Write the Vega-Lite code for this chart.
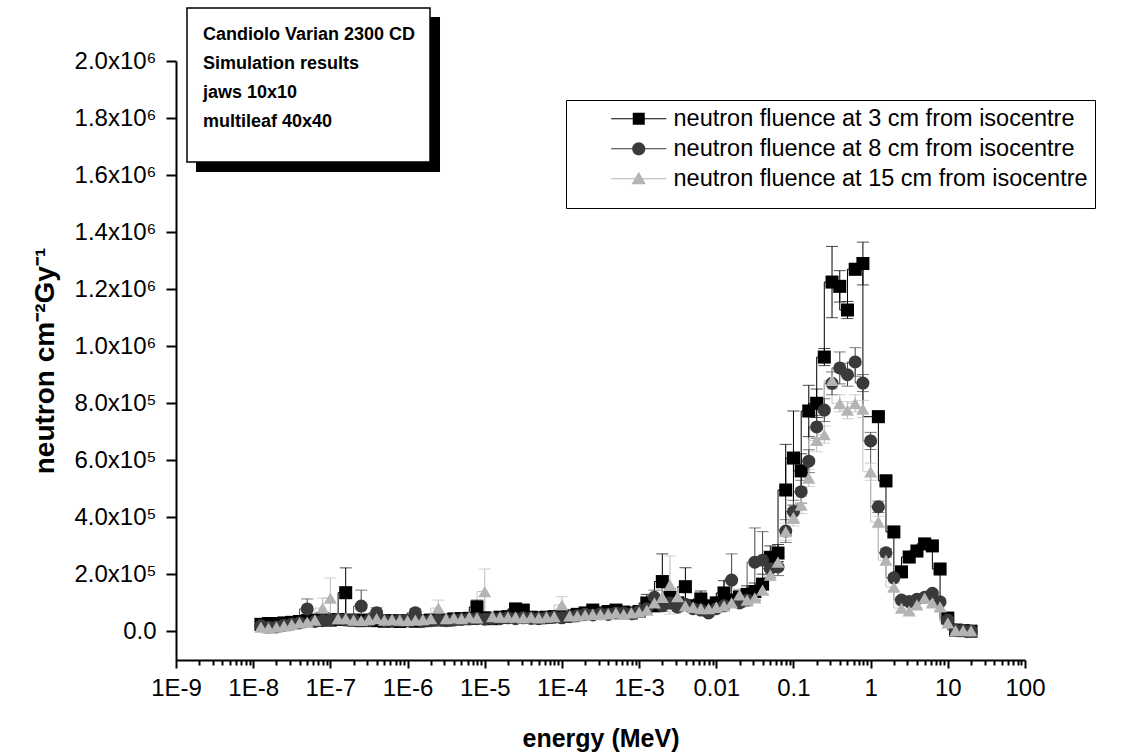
{
  "$schema": "https://vega.github.io/schema/vega-lite/v6.json",
  "width": 849,
  "height": 599,
  "autosize": {"type": "none"},
  "padding": {"left": 176, "top": 61, "right": 113, "bottom": 96},
  "background": "white",
  "config": {
    "view": {"stroke": null},
    "font": "Liberation Sans",
    "axis": {"grid": false, "domainColor": "black", "domainWidth": 2, "tickColor": "black", "tickWidth": 2, "labelColor": "black", "labelFont": "Liberation Sans", "labelFontSize": 24, "titleColor": "black", "titleFont": "Liberation Sans", "titleFontSize": 25, "titleFontWeight": "bold", "labelOverlap": false, "labelFlush": false, "labelBound": false}
  },
  "resolve": {"scale": {"color": "independent", "shape": "independent"}},
  "datasets": {
    "fluence": [
      {"s":"3 cm","e":1.26e-8,"v":25000,"err":4000},
      {"s":"3 cm","e":1.58e-8,"v":28000,"err":4000},
      {"s":"3 cm","e":2e-8,"v":28000,"err":4000},
      {"s":"3 cm","e":2.51e-8,"v":30000,"err":5000},
      {"s":"3 cm","e":3.16e-8,"v":32000,"err":5000},
      {"s":"3 cm","e":3.98e-8,"v":35000,"err":5000},
      {"s":"3 cm","e":5.01e-8,"v":38000,"err":6000},
      {"s":"3 cm","e":6.31e-8,"v":40000,"err":6000},
      {"s":"3 cm","e":7.94e-8,"v":45000,"err":7000},
      {"s":"3 cm","e":1e-7,"v":40000,"err":6000},
      {"s":"3 cm","e":1.26e-7,"v":42000,"err":6000},
      {"s":"3 cm","e":1.58e-7,"v":136000,"err":87000},
      {"s":"3 cm","e":2e-7,"v":40000,"err":6000},
      {"s":"3 cm","e":2.51e-7,"v":38000,"err":6000},
      {"s":"3 cm","e":3.16e-7,"v":40000,"err":6000},
      {"s":"3 cm","e":3.98e-7,"v":38000,"err":6000},
      {"s":"3 cm","e":5.01e-7,"v":36000,"err":5000},
      {"s":"3 cm","e":6.31e-7,"v":38000,"err":6000},
      {"s":"3 cm","e":7.94e-7,"v":35000,"err":5000},
      {"s":"3 cm","e":1e-6,"v":38000,"err":6000},
      {"s":"3 cm","e":1.26e-6,"v":36000,"err":5000},
      {"s":"3 cm","e":1.58e-6,"v":38000,"err":6000},
      {"s":"3 cm","e":2e-6,"v":40000,"err":6000},
      {"s":"3 cm","e":2.51e-6,"v":42000,"err":6000},
      {"s":"3 cm","e":3.16e-6,"v":40000,"err":6000},
      {"s":"3 cm","e":3.98e-6,"v":44000,"err":7000},
      {"s":"3 cm","e":5.01e-6,"v":45000,"err":7000},
      {"s":"3 cm","e":6.31e-6,"v":46000,"err":7000},
      {"s":"3 cm","e":7.94e-6,"v":86000,"err":24000},
      {"s":"3 cm","e":1e-5,"v":48000,"err":7000},
      {"s":"3 cm","e":1.26e-5,"v":45000,"err":7000},
      {"s":"3 cm","e":1.58e-5,"v":50000,"err":8000},
      {"s":"3 cm","e":2e-5,"v":52000,"err":8000},
      {"s":"3 cm","e":2.51e-5,"v":79000,"err":14000},
      {"s":"3 cm","e":3.16e-5,"v":75000,"err":10000},
      {"s":"3 cm","e":3.98e-5,"v":50000,"err":8000},
      {"s":"3 cm","e":5.01e-5,"v":48000,"err":7000},
      {"s":"3 cm","e":6.31e-5,"v":50000,"err":8000},
      {"s":"3 cm","e":7.94e-5,"v":52000,"err":8000},
      {"s":"3 cm","e":1e-4,"v":54000,"err":8000},
      {"s":"3 cm","e":1.26e-4,"v":55000,"err":8000},
      {"s":"3 cm","e":1.58e-4,"v":60000,"err":9000},
      {"s":"3 cm","e":2e-4,"v":65000,"err":10000},
      {"s":"3 cm","e":2.51e-4,"v":75000,"err":10000},
      {"s":"3 cm","e":3.16e-4,"v":65000,"err":10000},
      {"s":"3 cm","e":3.98e-4,"v":70000,"err":10000},
      {"s":"3 cm","e":5.01e-4,"v":75000,"err":11000},
      {"s":"3 cm","e":6.31e-4,"v":68000,"err":10000},
      {"s":"3 cm","e":7.94e-4,"v":65000,"err":10000},
      {"s":"3 cm","e":1e-3,"v":70000,"err":10000},
      {"s":"3 cm","e":1.26e-3,"v":100000,"err":30000},
      {"s":"3 cm","e":1.58e-3,"v":90000,"err":20000},
      {"s":"3 cm","e":2e-3,"v":175000,"err":97000},
      {"s":"3 cm","e":2.51e-3,"v":120000,"err":30000},
      {"s":"3 cm","e":3.16e-3,"v":100000,"err":20000},
      {"s":"3 cm","e":3.98e-3,"v":157000,"err":66000},
      {"s":"3 cm","e":5.01e-3,"v":90000,"err":15000},
      {"s":"3 cm","e":6.31e-3,"v":114000,"err":28000},
      {"s":"3 cm","e":7.94e-3,"v":90000,"err":15000},
      {"s":"3 cm","e":0.01,"v":100000,"err":20000},
      {"s":"3 cm","e":0.0126,"v":135000,"err":43000},
      {"s":"3 cm","e":0.0158,"v":110000,"err":20000},
      {"s":"3 cm","e":0.02,"v":120000,"err":25000},
      {"s":"3 cm","e":0.0251,"v":130000,"err":30000},
      {"s":"3 cm","e":0.0316,"v":140000,"err":30000},
      {"s":"3 cm","e":0.0398,"v":166000,"err":35000},
      {"s":"3 cm","e":0.0501,"v":260000,"err":40000},
      {"s":"3 cm","e":0.0631,"v":275000,"err":30000},
      {"s":"3 cm","e":0.0794,"v":496000,"err":160000},
      {"s":"3 cm","e":0.1,"v":608000,"err":165000},
      {"s":"3 cm","e":0.126,"v":563000,"err":60000},
      {"s":"3 cm","e":0.158,"v":773000,"err":90000},
      {"s":"3 cm","e":0.2,"v":800000,"err":50000},
      {"s":"3 cm","e":0.251,"v":962000,"err":30000},
      {"s":"3 cm","e":0.316,"v":1225000,"err":125000},
      {"s":"3 cm","e":0.398,"v":1210000,"err":55000},
      {"s":"3 cm","e":0.501,"v":1127000,"err":30000},
      {"s":"3 cm","e":0.631,"v":1270000,"err":20000},
      {"s":"3 cm","e":0.794,"v":1290000,"err":75000},
      {"s":"3 cm","e":1.26,"v":753000,"err":20000},
      {"s":"3 cm","e":1.58,"v":528000,"err":20000},
      {"s":"3 cm","e":2,"v":349000,"err":15000},
      {"s":"3 cm","e":2.51,"v":209000,"err":15000},
      {"s":"3 cm","e":3.16,"v":261000,"err":15000},
      {"s":"3 cm","e":3.98,"v":282000,"err":15000},
      {"s":"3 cm","e":5.01,"v":307000,"err":15000},
      {"s":"3 cm","e":6.31,"v":300000,"err":15000},
      {"s":"3 cm","e":7.94,"v":219000,"err":15000},
      {"s":"3 cm","e":10,"v":47000,"err":10000},
      {"s":"3 cm","e":12.6,"v":5000,"err":3000},
      {"s":"3 cm","e":15.8,"v":3000,"err":2000},
      {"s":"3 cm","e":20,"v":1000,"err":1000},

      {"s":"8 cm","e":1.26e-8,"v":20000,"err":3000},
      {"s":"8 cm","e":1.58e-8,"v":15000,"err":3000},
      {"s":"8 cm","e":2e-8,"v":16000,"err":3000},
      {"s":"8 cm","e":2.51e-8,"v":22000,"err":3000},
      {"s":"8 cm","e":3.16e-8,"v":26000,"err":4000},
      {"s":"8 cm","e":3.98e-8,"v":30000,"err":4000},
      {"s":"8 cm","e":5.01e-8,"v":79000,"err":35000},
      {"s":"8 cm","e":6.31e-8,"v":35000,"err":5000},
      {"s":"8 cm","e":7.94e-8,"v":38000,"err":5000},
      {"s":"8 cm","e":1e-7,"v":40000,"err":6000},
      {"s":"8 cm","e":1.26e-7,"v":43000,"err":6000},
      {"s":"8 cm","e":1.58e-7,"v":40000,"err":6000},
      {"s":"8 cm","e":2e-7,"v":40000,"err":6000},
      {"s":"8 cm","e":2.51e-7,"v":89000,"err":56000},
      {"s":"8 cm","e":3.16e-7,"v":38000,"err":5000},
      {"s":"8 cm","e":3.98e-7,"v":66000,"err":17000},
      {"s":"8 cm","e":5.01e-7,"v":38000,"err":5000},
      {"s":"8 cm","e":6.31e-7,"v":36000,"err":5000},
      {"s":"8 cm","e":7.94e-7,"v":38000,"err":5000},
      {"s":"8 cm","e":1e-6,"v":40000,"err":6000},
      {"s":"8 cm","e":1.26e-6,"v":66000,"err":13000},
      {"s":"8 cm","e":1.58e-6,"v":35000,"err":5000},
      {"s":"8 cm","e":2e-6,"v":38000,"err":5000},
      {"s":"8 cm","e":2.51e-6,"v":40000,"err":6000},
      {"s":"8 cm","e":3.16e-6,"v":38000,"err":5000},
      {"s":"8 cm","e":3.98e-6,"v":40000,"err":6000},
      {"s":"8 cm","e":5.01e-6,"v":42000,"err":6000},
      {"s":"8 cm","e":6.31e-6,"v":44000,"err":6000},
      {"s":"8 cm","e":7.94e-6,"v":45000,"err":6000},
      {"s":"8 cm","e":1e-5,"v":43000,"err":6000},
      {"s":"8 cm","e":1.26e-5,"v":46000,"err":7000},
      {"s":"8 cm","e":1.58e-5,"v":45000,"err":6000},
      {"s":"8 cm","e":2e-5,"v":48000,"err":7000},
      {"s":"8 cm","e":2.51e-5,"v":45000,"err":6000},
      {"s":"8 cm","e":3.16e-5,"v":48000,"err":7000},
      {"s":"8 cm","e":3.98e-5,"v":46000,"err":7000},
      {"s":"8 cm","e":5.01e-5,"v":45000,"err":6000},
      {"s":"8 cm","e":6.31e-5,"v":48000,"err":7000},
      {"s":"8 cm","e":7.94e-5,"v":50000,"err":7000},
      {"s":"8 cm","e":1e-4,"v":48000,"err":7000},
      {"s":"8 cm","e":1.26e-4,"v":52000,"err":7000},
      {"s":"8 cm","e":1.58e-4,"v":55000,"err":8000},
      {"s":"8 cm","e":2e-4,"v":60000,"err":8000},
      {"s":"8 cm","e":2.51e-4,"v":58000,"err":8000},
      {"s":"8 cm","e":3.16e-4,"v":62000,"err":9000},
      {"s":"8 cm","e":3.98e-4,"v":60000,"err":8000},
      {"s":"8 cm","e":5.01e-4,"v":65000,"err":9000},
      {"s":"8 cm","e":6.31e-4,"v":65000,"err":9000},
      {"s":"8 cm","e":7.94e-4,"v":62000,"err":9000},
      {"s":"8 cm","e":1e-3,"v":70000,"err":10000},
      {"s":"8 cm","e":1.26e-3,"v":80000,"err":15000},
      {"s":"8 cm","e":1.58e-3,"v":120000,"err":25000},
      {"s":"8 cm","e":2e-3,"v":90000,"err":20000},
      {"s":"8 cm","e":2.51e-3,"v":100000,"err":20000},
      {"s":"8 cm","e":3.16e-3,"v":85000,"err":15000},
      {"s":"8 cm","e":3.98e-3,"v":95000,"err":15000},
      {"s":"8 cm","e":5.01e-3,"v":80000,"err":12000},
      {"s":"8 cm","e":6.31e-3,"v":75000,"err":10000},
      {"s":"8 cm","e":7.94e-3,"v":65000,"err":10000},
      {"s":"8 cm","e":0.01,"v":80000,"err":12000},
      {"s":"8 cm","e":0.0126,"v":90000,"err":15000},
      {"s":"8 cm","e":0.0158,"v":180000,"err":92000},
      {"s":"8 cm","e":0.02,"v":100000,"err":15000},
      {"s":"8 cm","e":0.0251,"v":110000,"err":20000},
      {"s":"8 cm","e":0.0316,"v":243000,"err":120000},
      {"s":"8 cm","e":0.0398,"v":250000,"err":100000},
      {"s":"8 cm","e":0.0501,"v":220000,"err":30000},
      {"s":"8 cm","e":0.0631,"v":226000,"err":30000},
      {"s":"8 cm","e":0.0794,"v":352000,"err":40000},
      {"s":"8 cm","e":0.1,"v":420000,"err":40000},
      {"s":"8 cm","e":0.126,"v":490000,"err":40000},
      {"s":"8 cm","e":0.158,"v":597000,"err":40000},
      {"s":"8 cm","e":0.2,"v":717000,"err":40000},
      {"s":"8 cm","e":0.251,"v":776000,"err":40000},
      {"s":"8 cm","e":0.316,"v":870000,"err":40000},
      {"s":"8 cm","e":0.398,"v":924000,"err":56000},
      {"s":"8 cm","e":0.501,"v":900000,"err":40000},
      {"s":"8 cm","e":0.631,"v":945000,"err":50000},
      {"s":"8 cm","e":0.794,"v":871000,"err":30000},
      {"s":"8 cm","e":1,"v":668000,"err":30000},
      {"s":"8 cm","e":1.26,"v":437000,"err":20000},
      {"s":"8 cm","e":1.58,"v":276000,"err":15000},
      {"s":"8 cm","e":2,"v":188000,"err":12000},
      {"s":"8 cm","e":2.51,"v":110000,"err":10000},
      {"s":"8 cm","e":3.16,"v":105000,"err":10000},
      {"s":"8 cm","e":3.98,"v":113000,"err":10000},
      {"s":"8 cm","e":5.01,"v":120000,"err":10000},
      {"s":"8 cm","e":6.31,"v":134000,"err":10000},
      {"s":"8 cm","e":7.94,"v":104000,"err":10000},
      {"s":"8 cm","e":10,"v":40000,"err":8000},
      {"s":"8 cm","e":12.6,"v":5000,"err":3000},
      {"s":"8 cm","e":15.8,"v":4000,"err":3000},
      {"s":"8 cm","e":20,"v":2000,"err":2000},

      {"s":"15 cm","e":1.26e-8,"v":15000,"err":3000},
      {"s":"15 cm","e":1.58e-8,"v":12000,"err":3000},
      {"s":"15 cm","e":2e-8,"v":15000,"err":3000},
      {"s":"15 cm","e":2.51e-8,"v":20000,"err":3000},
      {"s":"15 cm","e":3.16e-8,"v":25000,"err":4000},
      {"s":"15 cm","e":3.98e-8,"v":30000,"err":4000},
      {"s":"15 cm","e":5.01e-8,"v":33000,"err":5000},
      {"s":"15 cm","e":6.31e-8,"v":40000,"err":6000},
      {"s":"15 cm","e":7.94e-8,"v":82000,"err":35000},
      {"s":"15 cm","e":1e-7,"v":117000,"err":70000},
      {"s":"15 cm","e":1.26e-7,"v":45000,"err":6000},
      {"s":"15 cm","e":1.58e-7,"v":45000,"err":6000},
      {"s":"15 cm","e":2e-7,"v":40000,"err":6000},
      {"s":"15 cm","e":2.51e-7,"v":38000,"err":5000},
      {"s":"15 cm","e":3.16e-7,"v":42000,"err":6000},
      {"s":"15 cm","e":3.98e-7,"v":45000,"err":6000},
      {"s":"15 cm","e":5.01e-7,"v":40000,"err":6000},
      {"s":"15 cm","e":6.31e-7,"v":42000,"err":6000},
      {"s":"15 cm","e":7.94e-7,"v":40000,"err":6000},
      {"s":"15 cm","e":1e-6,"v":38000,"err":5000},
      {"s":"15 cm","e":1.26e-6,"v":40000,"err":6000},
      {"s":"15 cm","e":1.58e-6,"v":42000,"err":6000},
      {"s":"15 cm","e":2e-6,"v":45000,"err":6000},
      {"s":"15 cm","e":2.51e-6,"v":82000,"err":28000},
      {"s":"15 cm","e":3.16e-6,"v":45000,"err":6000},
      {"s":"15 cm","e":3.98e-6,"v":48000,"err":7000},
      {"s":"15 cm","e":5.01e-6,"v":45000,"err":6000},
      {"s":"15 cm","e":6.31e-6,"v":50000,"err":7000},
      {"s":"15 cm","e":7.94e-6,"v":48000,"err":7000},
      {"s":"15 cm","e":1e-5,"v":140000,"err":79000},
      {"s":"15 cm","e":1.26e-5,"v":52000,"err":7000},
      {"s":"15 cm","e":1.58e-5,"v":50000,"err":7000},
      {"s":"15 cm","e":2e-5,"v":50000,"err":7000},
      {"s":"15 cm","e":2.51e-5,"v":50000,"err":7000},
      {"s":"15 cm","e":3.16e-5,"v":48000,"err":7000},
      {"s":"15 cm","e":3.98e-5,"v":50000,"err":7000},
      {"s":"15 cm","e":5.01e-5,"v":48000,"err":7000},
      {"s":"15 cm","e":6.31e-5,"v":50000,"err":7000},
      {"s":"15 cm","e":7.94e-5,"v":52000,"err":7000},
      {"s":"15 cm","e":1e-4,"v":93000,"err":29000},
      {"s":"15 cm","e":1.26e-4,"v":55000,"err":8000},
      {"s":"15 cm","e":1.58e-4,"v":55000,"err":8000},
      {"s":"15 cm","e":2e-4,"v":58000,"err":8000},
      {"s":"15 cm","e":2.51e-4,"v":60000,"err":8000},
      {"s":"15 cm","e":3.16e-4,"v":60000,"err":8000},
      {"s":"15 cm","e":3.98e-4,"v":62000,"err":9000},
      {"s":"15 cm","e":5.01e-4,"v":65000,"err":9000},
      {"s":"15 cm","e":6.31e-4,"v":60000,"err":8000},
      {"s":"15 cm","e":7.94e-4,"v":65000,"err":9000},
      {"s":"15 cm","e":1e-3,"v":68000,"err":10000},
      {"s":"15 cm","e":1.26e-3,"v":75000,"err":15000},
      {"s":"15 cm","e":1.58e-3,"v":100000,"err":30000},
      {"s":"15 cm","e":2e-3,"v":120000,"err":30000},
      {"s":"15 cm","e":2.51e-3,"v":163000,"err":102000},
      {"s":"15 cm","e":3.16e-3,"v":122000,"err":30000},
      {"s":"15 cm","e":3.98e-3,"v":90000,"err":15000},
      {"s":"15 cm","e":5.01e-3,"v":85000,"err":12000},
      {"s":"15 cm","e":6.31e-3,"v":80000,"err":10000},
      {"s":"15 cm","e":7.94e-3,"v":80000,"err":10000},
      {"s":"15 cm","e":0.01,"v":85000,"err":12000},
      {"s":"15 cm","e":0.0126,"v":90000,"err":12000},
      {"s":"15 cm","e":0.0158,"v":100000,"err":15000},
      {"s":"15 cm","e":0.02,"v":128000,"err":20000},
      {"s":"15 cm","e":0.0251,"v":110000,"err":15000},
      {"s":"15 cm","e":0.0316,"v":118000,"err":15000},
      {"s":"15 cm","e":0.0398,"v":145000,"err":15000},
      {"s":"15 cm","e":0.0501,"v":198000,"err":20000},
      {"s":"15 cm","e":0.0631,"v":243000,"err":25000},
      {"s":"15 cm","e":0.0794,"v":350000,"err":30000},
      {"s":"15 cm","e":0.1,"v":400000,"err":30000},
      {"s":"15 cm","e":0.126,"v":443000,"err":30000},
      {"s":"15 cm","e":0.158,"v":538000,"err":30000},
      {"s":"15 cm","e":0.2,"v":670000,"err":40000},
      {"s":"15 cm","e":0.251,"v":690000,"err":30000},
      {"s":"15 cm","e":0.316,"v":880000,"err":30000},
      {"s":"15 cm","e":0.398,"v":800000,"err":30000},
      {"s":"15 cm","e":0.501,"v":776000,"err":30000},
      {"s":"15 cm","e":0.631,"v":800000,"err":30000},
      {"s":"15 cm","e":0.794,"v":780000,"err":30000},
      {"s":"15 cm","e":1,"v":560000,"err":30000},
      {"s":"15 cm","e":1.26,"v":384000,"err":20000},
      {"s":"15 cm","e":1.58,"v":250000,"err":15000},
      {"s":"15 cm","e":2,"v":156000,"err":12000},
      {"s":"15 cm","e":2.51,"v":82000,"err":10000},
      {"s":"15 cm","e":3.16,"v":72000,"err":10000},
      {"s":"15 cm","e":3.98,"v":93000,"err":10000},
      {"s":"15 cm","e":5.01,"v":117000,"err":10000},
      {"s":"15 cm","e":6.31,"v":100000,"err":10000},
      {"s":"15 cm","e":7.94,"v":86000,"err":10000},
      {"s":"15 cm","e":10,"v":30000,"err":8000},
      {"s":"15 cm","e":12.6,"v":3000,"err":3000},
      {"s":"15 cm","e":15.8,"v":3000,"err":3000},
      {"s":"15 cm","e":20,"v":2000,"err":2000}
    ]
  },
  "layer": [
    {
      "data": {"name": "fluence"},
      "mark": {"type": "line", "interpolate": "step-before", "strokeWidth": 1},
      "encoding": {
        "x": {"field": "e", "type": "quantitative", "title": "energy (MeV)", "scale": {"type": "log", "domain": [1e-9, 100], "nice": false},
          "axis": {
            "title": "energy (MeV)",
            "titlePadding": 26,
            "labelPadding": 8,
            "values": [1e-9,2e-9,3e-9,4e-9,5e-9,6e-9,7e-9,8e-9,9e-9,1e-8,2e-8,3e-8,4e-8,5e-8,6e-8,7e-8,8e-8,9e-8,1e-7,2e-7,3e-7,4e-7,5e-7,6e-7,7e-7,8e-7,9e-7,1e-6,2e-6,3e-6,4e-6,5e-6,6e-6,7e-6,8e-6,9e-6,1e-5,2e-5,3e-5,4e-5,5e-5,6e-5,7e-5,8e-5,9e-5,1e-4,2e-4,3e-4,4e-4,5e-4,6e-4,7e-4,8e-4,9e-4,1e-3,2e-3,3e-3,4e-3,5e-3,6e-3,7e-3,8e-3,9e-3,0.01,0.02,0.03,0.04,0.05,0.06,0.07,0.08,0.09,0.1,0.2,0.3,0.4,0.5,0.6,0.7,0.8,0.9,1,2,3,4,5,6,7,8,9,10,20,30,40,50,60,70,80,90,100],
            "labelExpr": "abs(log(datum.value)/LN10 - round(log(datum.value)/LN10)) > 0.001 ? '' : (round(log(datum.value)/LN10) <= -3 ? '1E' + round(log(datum.value)/LN10) : '' + datum.value)",
            "tickSize": {"condition": {"test": "abs(log(datum.value)/LN10 - round(log(datum.value)/LN10)) < 0.001", "value": 8}, "value": 5}
          }
        },
        "y": {"field": "v", "type": "quantitative", "title": "neutron cm⁻²Gy⁻¹", "scale": {"domain": [-100000, 2000000], "nice": false, "zero": false},
          "axis": {
            "title": "neutron cm⁻²Gy⁻¹",
            "titleFontSize": 28,
            "titlePadding": 14,
            "labelPadding": 10,
            "values": [0,100000,200000,300000,400000,500000,600000,700000,800000,900000,1000000,1100000,1200000,1300000,1400000,1500000,1600000,1700000,1800000,1900000,2000000],
            "labelExpr": "datum.value == 0 ? '0.0' : (datum.value % 200000 != 0 ? '' : (datum.value < 1000000 ? format(datum.value/100000, '.1f') + 'x10⁵' : format(datum.value/1000000, '.1f') + 'x10⁶'))",
            "tickSize": {"condition": {"test": "datum.value % 200000 == 0", "value": 10}, "value": 6}
          }
        },
        "color": {"field": "s", "type": "nominal", "legend": null, "scale": {"domain": ["3 cm", "8 cm", "15 cm"], "range": ["#000000", "#555555", "#c4c4c4"]}},
        "order": {"field": "e", "type": "quantitative"}
      }
    },
    {
      "data": {"name": "fluence"},
      "mark": {"type": "errorbar", "ticks": {"size": 12, "thickness": 1}, "thickness": 1},
      "encoding": {
        "x": {"field": "e", "type": "quantitative", "title": "energy (MeV)"},
        "y": {"field": "v", "type": "quantitative", "title": "neutron cm⁻²Gy⁻¹"},
        "yError": {"field": "err"},
        "color": {"field": "s", "type": "nominal", "legend": null, "scale": {"domain": ["3 cm", "8 cm", "15 cm"], "range": ["#000000", "#444444", "#bcbcbc"]}}
      }
    },
    {
      "data": {"name": "fluence"},
      "mark": {"type": "point", "filled": true, "opacity": 1, "size": 170},
      "encoding": {
        "x": {"field": "e", "type": "quantitative", "title": "energy (MeV)"},
        "y": {"field": "v", "type": "quantitative", "title": "neutron cm⁻²Gy⁻¹"},
        "color": {"field": "s", "type": "nominal", "legend": null, "scale": {"domain": ["3 cm", "8 cm", "15 cm"], "range": ["#000000", "#3a3a3a", "#b4b4b4"]}},
        "shape": {"field": "s", "type": "nominal", "legend": null, "scale": {"domain": ["3 cm", "8 cm", "15 cm"], "range": ["square", "circle", "triangle-up"]}}
      }
    },
    {
      "data": {"name": "fluence"},
      "mark": {"type": "point", "filled": true, "opacity": 0, "size": 144},
      "encoding": {
        "x": {"field": "e", "type": "quantitative", "title": "energy (MeV)"},
        "y": {"field": "v", "type": "quantitative", "title": "neutron cm⁻²Gy⁻¹"},
        "color": {"field": "s", "type": "nominal",
          "scale": {"domain": ["3 cm", "8 cm", "15 cm"], "range": ["#000000", "#3a3a3a", "#b4b4b4"]},
          "legend": {
            "title": "\u00a0",
            "titleOrient": "bottom",
            "titleFontSize": 9,
            "titlePadding": 2,
            "orient": "none",
            "legendX": 390,
            "legendY": 39,
            "direction": "vertical",
            "labelFont": "Liberation Sans",
            "labelFontSize": 23.5,
            "labelColor": "black",
            "labelLimit": 1000,
            "labelExpr": "'neutron fluence at ' + datum.label + ' from isocentre'",
            "symbolSize": 144,
            "symbolStrokeWidth": 0,
            "symbolOpacity": 1,
            "symbolOffset": 54,
            "labelOffset": 23,
            "padding": 7,
            "rowPadding": 5,
            "strokeColor": "black",
            "fillColor": "white"
          }
        },
        "shape": {"field": "s", "type": "nominal",
          "scale": {"domain": ["3 cm", "8 cm", "15 cm"], "range": [
            "M-4.6,-0.09H4.6V0.09H-4.6Z M-1,-1H1V1H-1Z",
            "M-4.6,-0.09H4.6V0.09H-4.6Z M-1.1,0A1.1,1.1,0,1,1,1.1,0A1.1,1.1,0,1,1,-1.1,0Z",
            "M-4.6,-0.09H4.6V0.09H-4.6Z M0,-1.15L1.2,0.9H-1.2Z"
          ]},
          "legend": {
            "title": "\u00a0",
            "titleOrient": "bottom",
            "titleFontSize": 9,
            "titlePadding": 2,
            "orient": "none",
            "legendX": 390,
            "legendY": 39,
            "direction": "vertical",
            "labelFont": "Liberation Sans",
            "labelFontSize": 23.5,
            "labelColor": "black",
            "labelLimit": 1000,
            "labelExpr": "'neutron fluence at ' + datum.label + ' from isocentre'",
            "symbolSize": 144,
            "symbolStrokeWidth": 0,
            "symbolOpacity": 1,
            "symbolOffset": 54,
            "labelOffset": 23,
            "padding": 7,
            "rowPadding": 5,
            "strokeColor": "black",
            "fillColor": "white"
          }
        }
      }
    },
    {
      "data": {"values": [{}]},
      "mark": {"type": "rect", "fill": "black", "clip": false},
      "encoding": {
        "x": {"datum": 1.816e-9, "type": "quantitative"},
        "x2": {"datum": 2.634e-6},
        "y": {"datum": 2154000, "type": "quantitative"},
        "y2": {"datum": 1611000}
      }
    },
    {
      "data": {"values": [{}]},
      "mark": {"type": "rect", "fill": "white", "stroke": "black", "strokeWidth": 1.5, "clip": false},
      "encoding": {
        "x": {"datum": 1.388e-9, "type": "quantitative"},
        "x2": {"datum": 1.955e-6},
        "y": {"datum": 2185900, "type": "quantitative"},
        "y2": {"datum": 1646000}
      }
    },
    {
      "data": {"values": [{}]},
      "mark": {"type": "text", "align": "left", "baseline": "alphabetic", "font": "Liberation Sans", "fontSize": 18, "fontWeight": "bold", "lineHeight": 29, "color": "black", "clip": false},
      "encoding": {
        "x": {"datum": 2.237e-9, "type": "quantitative"},
        "y": {"datum": 2073700, "type": "quantitative"},
        "text": {"value": ["Candiolo Varian 2300 CD", "Simulation results", "jaws 10x10", "multileaf 40x40"]}
      }
    }
  ]
}
